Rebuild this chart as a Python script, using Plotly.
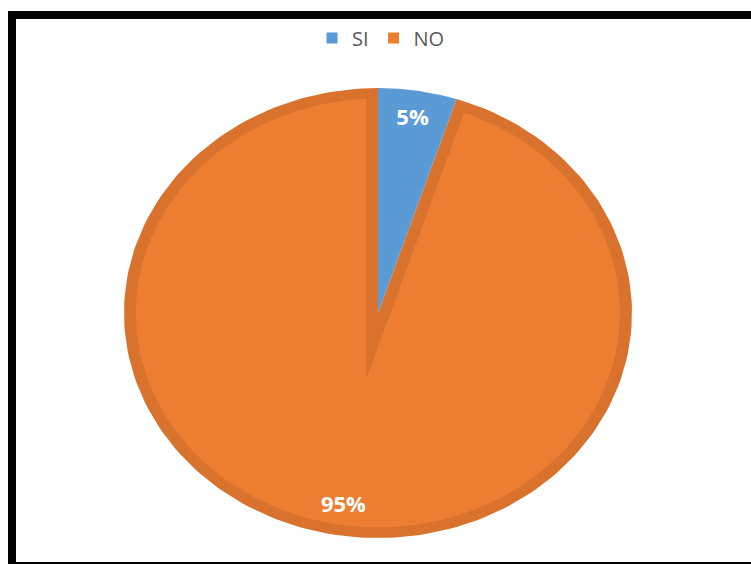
import numpy as np
import plotly.graph_objects as go

# ---- data ----
labels = ["SI", "NO"]
values = [5, 95]
pct_text = ["5%", "95%"]
fill_colors = ["#5B9BD5", "#ED7D31"]
band_colors = ["#5B9BD5", "#D8722D"]

# ---- geometry (pixel space) ----
W, H = 751, 564
CX, CY = 378, 313          # pie centre
R = 225                    # vertical radius
SX = 254 / 225             # horizontal stretch (pie is drawn as an ellipse)
BAND = 10.5                # inner border width
LABEL_R = 0.87


def pt(theta_deg, r):
    t = np.radians(theta_deg)
    return CX + SX * r * np.sin(t), CY - r * np.cos(t)


def wedge(t0, t1, r):
    th = np.linspace(t0, t1, 200)
    xs, ys = pt(th, r)
    x0, y0 = pt(0, 0)
    return np.r_[x0, xs, x0], np.r_[y0, ys, y0]


def inset_wedge(t0, t1, r, d):
    half = (t1 - t0) / 2.0
    mid = t0 + half
    a = d / np.sin(np.radians(half))
    delta = np.degrees(np.arcsin(d / (r - d)))
    th = np.linspace(t0 + delta, t1 - delta, 200)
    xs, ys = pt(th, r - d)
    ax, ay = pt(mid, a)
    return np.r_[ax, xs, ax], np.r_[ay, ys, ay]


total = float(sum(values))
starts = np.r_[0, np.cumsum(values)[:-1]] / total * 360.0
ends = np.cumsum(values) / total * 360.0

fig = go.Figure()

# NO slice (drawn first), then SI
order = [1, 0]
for i in order:
    t0, t1 = starts[i], ends[i]
    x, y = wedge(t0, t1, R)
    fig.add_trace(go.Scatter(x=x, y=y, mode="lines", fill="toself",
                             fillcolor=band_colors[i], line=dict(width=0, color=band_colors[i]),
                             hoverinfo="skip", showlegend=False))
    if band_colors[i] != fill_colors[i]:
        xi, yi = inset_wedge(t0, t1, R, BAND)
        fig.add_trace(go.Scatter(x=xi, y=yi, mode="lines", fill="toself",
                                 fillcolor=fill_colors[i], line=dict(width=0, color=fill_colors[i]),
                                 hoverinfo="skip", showlegend=False))

# percentage labels
mids = (starts + ends) / 2.0
lx, ly = pt(mids, LABEL_R * R)
fig.add_trace(go.Scatter(x=lx, y=ly, mode="text", text=pct_text,
                         textfont=dict(family="Open Sans", size=22, color="white", weight="bold"),
                         hoverinfo="skip", showlegend=False))

# legend entries
for i, lab in enumerate(labels):
    fig.add_trace(go.Scatter(x=[None], y=[None], mode="markers", name=lab,
                             marker=dict(symbol="square", size=11, color=fill_colors[i])))

# outer black frame
fig.add_shape(type="rect", x0=12, y0=15, x1=760, y1=566, xref="x", yref="y",
              line=dict(color="black", width=8), fillcolor="rgba(0,0,0,0)", layer="above")

fig.update_layout(
    width=W, height=H,
    margin=dict(l=0, r=0, t=0, b=0),
    paper_bgcolor="white", plot_bgcolor="white",
    xaxis=dict(range=[0, W], visible=False, fixedrange=True),
    yaxis=dict(range=[H, 0], visible=False, fixedrange=True),
    showlegend=True,
    legend=dict(orientation="h", x=381 / W, xanchor="center", y=1 - 38 / H, yanchor="middle",
                font=dict(family="Open Sans", size=20, color="#595959"),
                bgcolor="rgba(0,0,0,0)", itemwidth=30, traceorder="normal"),
)

fig.write_html("out.html")
